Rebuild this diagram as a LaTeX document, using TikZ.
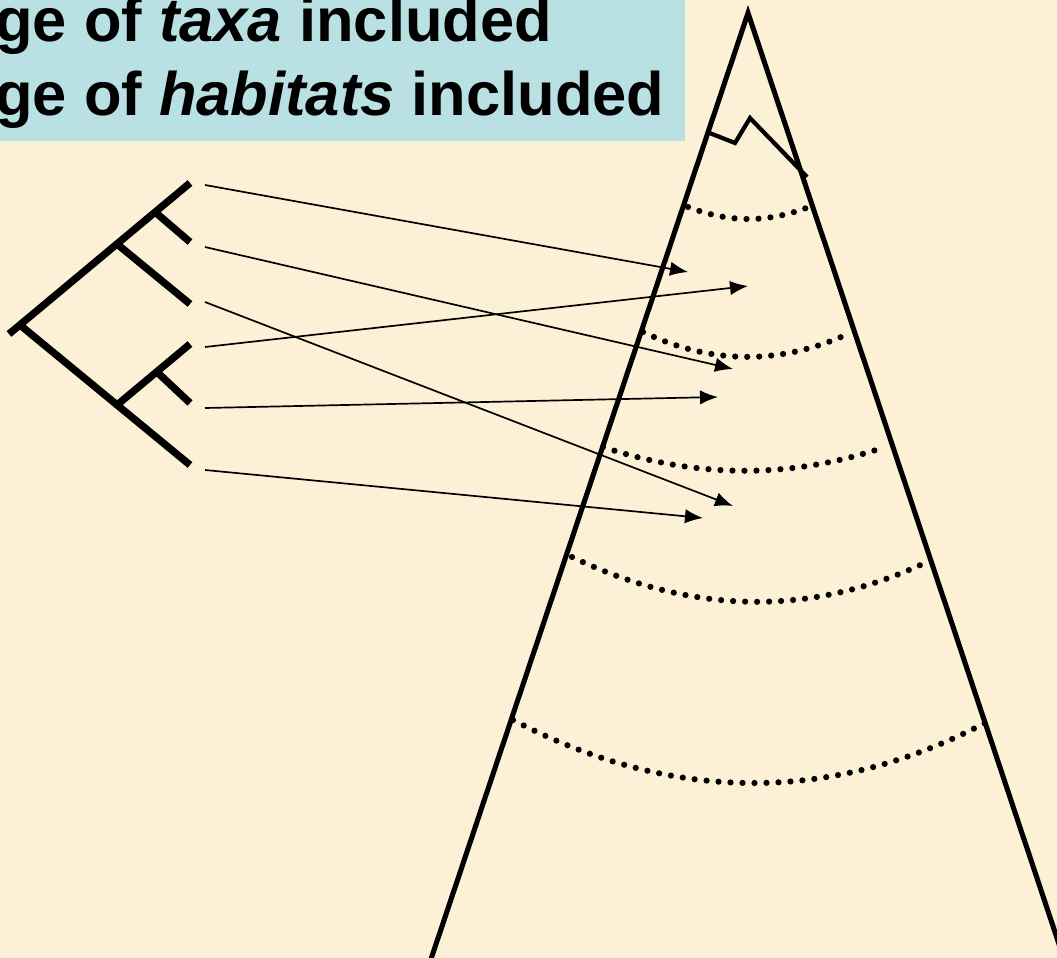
\documentclass[tikz,border=0pt]{standalone}
\usepackage{fontspec}
\setmainfont{Liberation Sans}
\usetikzlibrary{arrows.meta,positioning}
\definecolor{parchment}{RGB}{252,241,214}
\definecolor{boxblue}{RGB}{185,224,227}

\begin{document}
\begin{tikzpicture}[
  x=0.025cm, y=-0.025cm,
  branch/.style={line width=5.2pt},
  side/.style={line width=3.6pt, line join=miter},
  notch/.style={line width=3pt, line join=miter},
  level/.style={line width=4.4pt, line cap=round, dash pattern=on 0pt off 0.3cm},
  link/.style={-{Latex[length=0.45cm,width=0.36cm]}, line width=1.2pt},
  caption/.style={anchor=base west, inner sep=0pt, font=\fontsize{43.7}{52}\selectfont\bfseries}
]

  % Page
  \useasboundingbox (0,0) rectangle (1057,958);
  \fill[parchment] (0,0) rectangle (1057,958);
  \clip (0,0) rectangle (1057,958);

  % Caption box
  \fill[boxblue] (-10,-10) rectangle (685,141);
  \node[caption] (Taxa) at (-5,42) {ge of \textit{taxa} included};
  \node[caption] (Habitats) at (-5,116) {ge of \textit{habitats} included};

  % Mountain
  \coordinate (Peak) at (748,13);
  \coordinate (BaseL) at (424,980);
  \coordinate (BaseR) at (1071,980);
  \draw[side] (BaseL) -- (Peak) -- (BaseR);
  \draw[notch] (707,132) -- (735,143) -- (750,118) -- (807,177);

  % Zones (dotted bands)
  \draw[level] (688,207) .. controls (730,223) and (767,223) .. (809,207);
  \draw[level] (643,332) .. controls (712,365) and (781,365) .. (850,333);
  \draw[level] (603,447) .. controls (696,478) and (789,479) .. (882,448);
  \draw[level] (572,557) .. controls (691,614) and (810,618) .. (929,561);
  \draw[level] (513,720) .. controls (670,802) and (828,805) .. (985,723);

  % Tree
  \coordinate (Root) at (9,334);
  \coordinate (Stem) at (20,325);
  \coordinate (Tip1) at (190,183);
  \coordinate (Tip2) at (190,242);
  \coordinate (Tip3) at (190,304);
  \coordinate (Tip4) at (190,344);
  \coordinate (Tip5) at (190,403);
  \coordinate (Tip6) at (190,465);
  \coordinate (Fork1) at (155,212);
  \coordinate (Fork2) at (117,244);
  \coordinate (Fork3) at (117,405);
  \coordinate (Fork4) at (157,372);
  \draw[branch] (Root) -- (Tip1);
  \draw[branch] (Stem) -- (Tip6);
  \draw[branch] (Fork1) -- (Tip2);
  \draw[branch] (Fork2) -- (Tip3);
  \draw[branch] (Fork3) -- (Tip4);
  \draw[branch] (Fork4) -- (Tip5);

  % Taxa to zones
  \coordinate (From1) at (205,185);
  \coordinate (From2) at (205,247);
  \coordinate (From3) at (205,302);
  \coordinate (From4) at (205,347);
  \coordinate (From5) at (205,408);
  \coordinate (From6) at (205,470);
  \coordinate (To1) at (688,272);
  \coordinate (To2) at (733,369);
  \coordinate (To3) at (733,506);
  \coordinate (To4) at (748,286);
  \coordinate (To5) at (718,397);
  \coordinate (To6) at (703,518);
  \draw[link] (From1) -- (To1);
  \draw[link] (From2) -- (To2);
  \draw[link] (From3) -- (To3);
  \draw[link] (From4) -- (To4);
  \draw[link] (From5) -- (To5);
  \draw[link] (From6) -- (To6);

\end{tikzpicture}
\end{document}
